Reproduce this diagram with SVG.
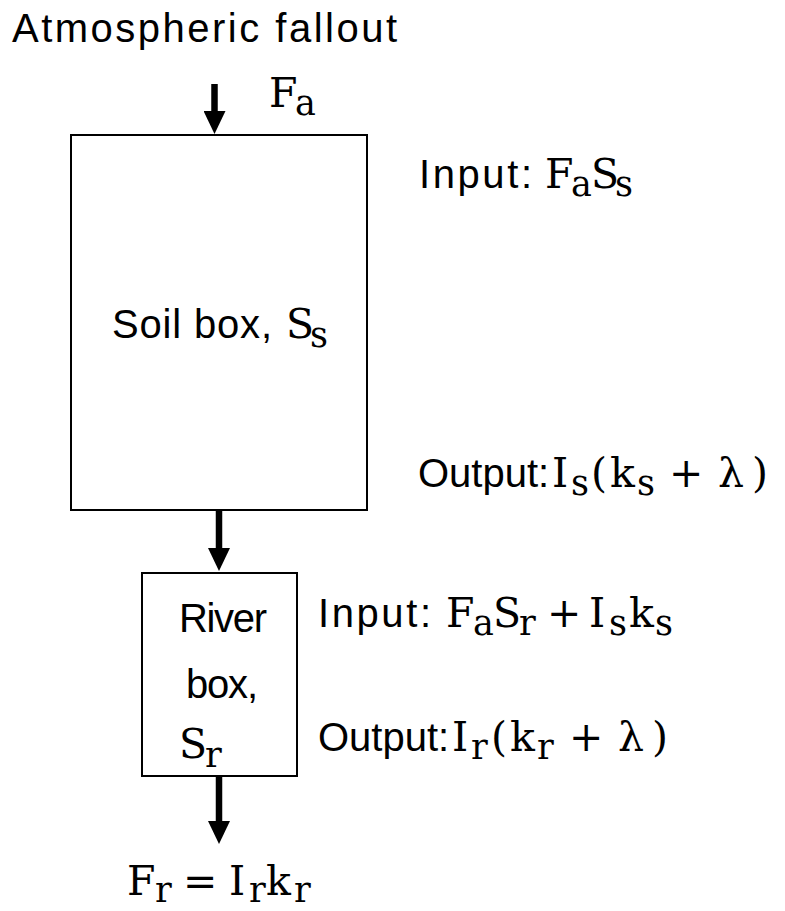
<svg xmlns="http://www.w3.org/2000/svg" width="785" height="911" viewBox="0 0 785 911">
  <style>
    .box { fill: #ffffff; stroke: #000000; stroke-width: 2; }
    .flow { stroke: #000000; stroke-width: 6.5; fill: none; }
    .sans { font-family: "Liberation Sans", Arial, sans-serif; font-size: 40px; fill: #000000; }
    .math { font-family: "DejaVu Serif", "Liberation Serif", serif; font-size: 41px; fill: #000000; }
    .sub { font-size: 35px; }
  </style>
  <defs>
    <marker id="head" viewBox="0 0 23 22" markerWidth="23" markerHeight="22" refX="1" refY="11" orient="auto" markerUnits="userSpaceOnUse">
      <path d="M0,0 L23,11 L0,22 Z" fill="#000000"/>
    </marker>
  </defs>

  <rect width="785" height="911" fill="#ffffff"/>

  <!-- source of the deposition flux -->
  <g id="atmosphere">
    <text class="sans" x="12" y="42" font-size="42" textLength="385">Atmospheric fallout</text>
    <text class="math"><tspan x="269" y="107">F</tspan><tspan class="sub" x="295" y="115">a</tspan></text>
  </g>

  <!-- soil reservoir -->
  <g id="soil-box">
    <rect class="box" x="71" y="135" width="296" height="375"/>
    <text class="sans" x="112" y="338" textLength="160">Soil box,</text>
    <text class="math"><tspan x="286" y="338">S</tspan><tspan class="sub" x="310" y="347">s</tspan></text>
  </g>

  <g id="soil-fluxes">
    <text class="sans" x="419" y="188" textLength="113">Input:</text>
    <text class="math"><tspan x="545" y="188">F</tspan><tspan class="sub" x="571" y="196">a</tspan><tspan x="591" y="188">S</tspan><tspan class="sub" x="615" y="196">s</tspan></text>
    <text class="sans" x="418" y="487" font-size="37">Output:</text>
    <text class="math"><tspan x="552" y="487">I</tspan><tspan class="sub" x="571" y="495">s</tspan><tspan x="591" y="487">(</tspan><tspan x="610" y="487">k</tspan><tspan class="sub" x="637" y="495">s</tspan><tspan x="669" y="487">+</tspan><tspan x="718" y="487">λ</tspan><tspan x="752" y="487">)</tspan></text>
  </g>

  <!-- river reservoir -->
  <g id="river-box">
    <rect class="box" x="142" y="573" width="155" height="203"/>
    <text class="sans" x="223" y="632" font-size="37" text-anchor="middle" textLength="88">River</text>
    <text class="sans" x="222" y="698" font-size="37" text-anchor="middle" textLength="72">box,</text>
    <text class="math"><tspan x="179" y="758">S</tspan><tspan class="sub" x="205" y="767">r</tspan></text>
  </g>

  <g id="river-fluxes">
    <text class="sans" x="318" y="627" textLength="113">Input:</text>
    <text class="math"><tspan x="446" y="627">F</tspan><tspan class="sub" x="473" y="635">a</tspan><tspan x="493" y="627">S</tspan><tspan class="sub" x="519" y="635">r</tspan><tspan x="547" y="627">+</tspan><tspan x="589" y="627">I</tspan><tspan class="sub" x="609" y="635">s</tspan><tspan x="629" y="627">k</tspan><tspan class="sub" x="655" y="635">s</tspan></text>
    <text class="sans" x="318" y="751" font-size="37">Output:</text>
    <text class="math"><tspan x="452" y="751">I</tspan><tspan class="sub" x="471" y="759">r</tspan><tspan x="491" y="751">(</tspan><tspan x="510" y="751">k</tspan><tspan class="sub" x="537" y="759">r</tspan><tspan x="569" y="751">+</tspan><tspan x="618" y="751">λ</tspan><tspan x="652" y="751">)</tspan></text>
  </g>

  <!-- river discharge -->
  <g id="river-discharge">
    <text class="math"><tspan x="127" y="895">F</tspan><tspan class="sub" x="155" y="902">r</tspan><tspan x="183" y="895">=</tspan><tspan x="229" y="895">I</tspan><tspan class="sub" x="249" y="902">r</tspan><tspan x="266" y="895">k</tspan><tspan class="sub" x="294" y="902">r</tspan></text>
  </g>

  <!-- flux arrows -->
  <g id="connectors">
    <line class="flow" x1="214.5" y1="84" x2="214.5" y2="112" marker-end="url(#head)"/>
    <line class="flow" x1="219" y1="511" x2="219" y2="549" marker-end="url(#head)"/>
    <line class="flow" x1="219" y1="777" x2="219" y2="822" marker-end="url(#head)"/>
  </g>
</svg>
